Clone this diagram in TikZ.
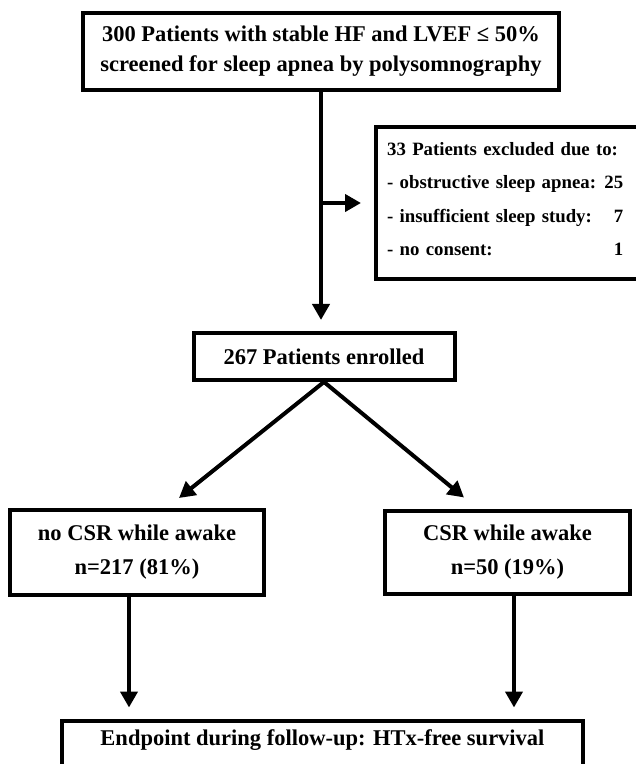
\documentclass[tikz,border=0pt]{standalone}
\usepackage{fontspec}
\setmainfont{Liberation Serif}
\usetikzlibrary{arrows.meta}

\begin{document}
\begin{tikzpicture}[x=1pt,y=-1pt,
  box/.style={draw,line width=4pt,inner sep=0pt,align=center},
  arr/.style={line width=4pt,-{Triangle[length=16pt,width=17pt]}},
  txt/.style={font=\fontsize{22.5}{30}\selectfont\bfseries}]
  \clip (0,0) rectangle (636,764);
  \node[box,txt,minimum width=476pt,minimum height=77pt] (screen) at (321,51) {300 Patients with stable HF and LVEF ≤ 50\%\\screened for sleep apnea by polysomnography};
  \node[box,minimum width=264pt,minimum height=152pt] (excl) at (508,203) {};
  \node[anchor=west,inner sep=0pt,align=left,text width=236pt,font=\fontsize{18.8}{33.3}\selectfont\bfseries] (excltext) at (387,199) {33 Patients excluded due to:\\- obstructive sleep apnea:~\hfill 25\\- insufficient sleep study:~\hfill 7\\- no consent:\hfill 1};
  \node[box,txt,minimum width=261pt,minimum height=46.5pt] (enrolled) at (324,356.7) {267 Patients enrolled};
  \node[box,txt,font=\fontsize{22.5}{34}\selectfont\bfseries,minimum width=254.5pt,minimum height=85pt] (nocsr) at (137,552.5) {no CSR while awake\\n=217 (81\%)};
  \node[box,txt,font=\fontsize{22.5}{34}\selectfont\bfseries,minimum width=245pt,minimum height=83pt] (csr) at (507.5,552.5) {CSR while awake\\n=50 (19\%)};
  \node[box,txt,anchor=base,text height=24.5pt,text depth=45pt,minimum width=521pt] (endpt) at (322.5,745) {Endpoint during follow-up: HTx-free survival};
  \coordinate (split) at (screen.south |- excl.west);
  \coordinate (tipL) at ([xshift=42pt,yshift=10pt]nocsr.north);
  \coordinate (tipR) at ([xshift=-43.5pt,yshift=11.5pt]csr.north);
  \draw[arr,shorten >=11.5pt] (screen.south) -- (screen.south |- enrolled.north);
  \draw[arr,shorten >=13pt] (split) -- (excl.west);
  \draw[arr] (enrolled.south) -- (tipL);
  \draw[arr] (enrolled.south) -- (tipR);
  \foreach \b/\s in {nocsr/-8pt,csr/6.5pt} {
    \coordinate (\b-out) at ([xshift=\s]\b.south);
    \draw[arr,shorten >=11pt] (\b-out) -- (\b-out |- endpt.north);
  }
\end{tikzpicture}
\end{document}
